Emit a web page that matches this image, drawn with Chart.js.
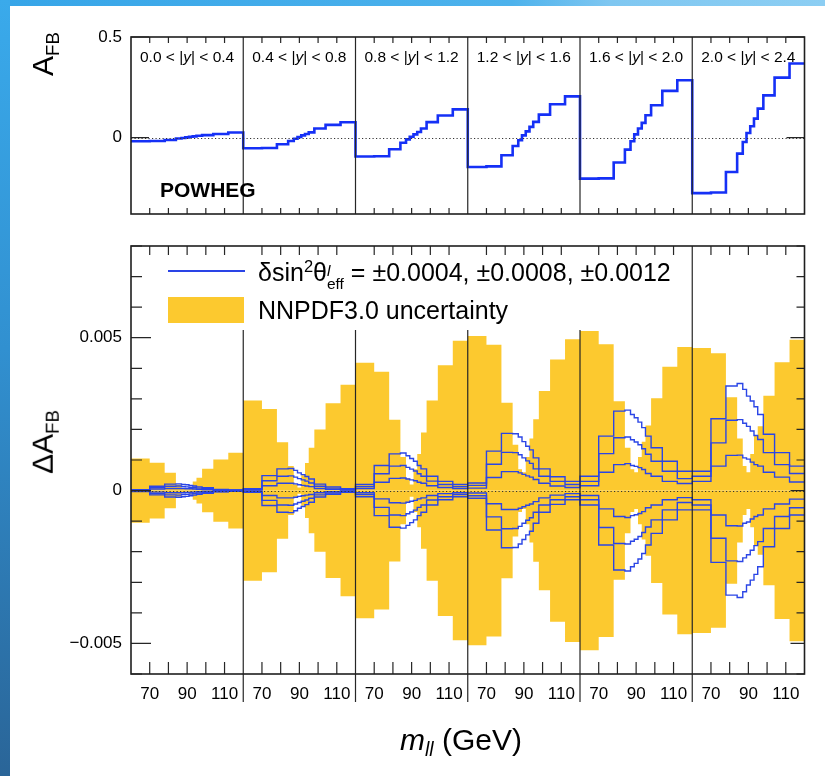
<!DOCTYPE html>
<html>
<head>
<meta charset="utf-8">
<script src="https://cdn.jsdelivr.net/npm/chart.js@4.4.1/dist/chart.umd.min.js"></script>
<style>
  html, body { margin: 0; padding: 0; background: #fff; }
  body { width: 825px; height: 776px; position: relative; overflow: hidden;
         font-family: "Liberation Sans", Arial, Helvetica, sans-serif; color: #000; }
  #edgeTop { position: absolute; left: 0; top: 0; width: 825px; height: 6px;
             background: linear-gradient(90deg, #36a5e8 0%, #4db2ec 62%, #7fc7f1 74%, #8ccef3 100%); }
  #edgeLeft { position: absolute; left: 0; top: 0; width: 10px; height: 776px;
              background: linear-gradient(180deg, #3aaaeb 0%, #3190d0 45%, #2a6598 100%); }
  #topWrap { position: absolute; left: 0; top: 0; width: 825px; height: 230px; }
  #botWrap { position: absolute; left: 0; top: 230px; width: 825px; height: 546px; }
  .ytitle { position: absolute; transform: translate(-50%, -50%) rotate(-90deg);
            font-size: 30px; line-height: 1; white-space: nowrap; }
  .ytitle sub { font-size: 0.62em; vertical-align: -0.32em; }
  .plabel { position: absolute; top: 49px; font-size: 15.5px; line-height: 1;
            white-space: nowrap; transform: translateX(-50%); }
  #powheg { position: absolute; left: 160px; top: 179px; font-size: 21px; font-weight: bold; line-height: 1; }
  #xtitle { position: absolute; left: 461px; top: 742px; transform: translate(-50%, -50%);
            font-size: 30px; line-height: 1; white-space: nowrap; }
  #xtitle sub { font-size: 0.65em; vertical-align: -0.3em; }
  .legText { position: absolute; left: 258px; font-size: 25px; line-height: 30px; white-space: nowrap; }
  .legText sup { font-size: 0.66em; vertical-align: 0.55em; line-height: 0; }
  .stack { display: inline-block; font-size: 0.62em; line-height: 0.85; vertical-align: -0.5em; text-align: left; }
  #legLine { position: absolute; left: 168px; top: 270px; width: 77px; height: 1.5px; background: #2a44e6; }
  #legBox { position: absolute; left: 168px; top: 297px; width: 76px; height: 26px; background: #fcc92f; }
</style>
</head>
<body>
<div id="edgeTop"></div>
<div id="edgeLeft"></div>
<div id="topWrap"><canvas id="afbChart" width="825" height="230"></canvas></div>
<div id="botWrap"><canvas id="dafbChart" width="825" height="546"></canvas></div>

<div class="ytitle" style="left:45px; top:54px;">A<sub>FB</sub></div>
<div class="ytitle" style="left:45px; top:442px;">&Delta;A<sub>FB</sub></div>
<div id="powheg">POWHEG</div>
<div id="legLine"></div>
<div class="legText" style="top:257px;">&delta;sin<sup>2</sup>&theta;<span class="stack"><i>l</i><br>eff</span> = &plusmn;0.0004, &plusmn;0.0008, &plusmn;0.0012</div>
<div id="legBox"></div>
<div class="legText" style="top:295px;">NNPDF3.0 uncertainty</div>
<div id="xtitle"><i>m</i><sub><i>ll</i></sub> (GeV)</div>

<script>
// Dilepton mass bin edges (GeV), shared by all rapidity panels
const massEdges = [60, 70, 78, 84, 87, 89, 91, 93, 95, 98, 104, 112, 120];
// |y| bin edges, one panel per bin
const rapidityEdges = ['0.0', '0.4', '0.8', '1.2', '1.6', '2.0', '2.4'];

// Axis ticks
const massTickValues = [70, 90, 110];
const massTickLabels = ['70', '90', '110'];
const massMinorTicks = [70, 80, 90, 100, 110];
const afbTickValues = [0, 0.5];
const afbTickLabels = ['0', '0.5'];
const dAfbTickValues = [-0.005, 0, 0.005];
const dAfbTickLabels = ['\u22120.005', '0', '0.005'];

// POWHEG forward-backward asymmetry, one row per |y| bin, one value per mass bin
const afbPowheg = [
  [-0.018, -0.017, -0.012, -0.005, -0.002, 0.001, 0.004, 0.006, 0.009, 0.012, 0.018, 0.025],
  [-0.053, -0.052, -0.033, -0.017, -0.006, 0.003, 0.011, 0.018, 0.026, 0.045, 0.063, 0.076],
  [-0.094, -0.093, -0.058, -0.026, -0.009, 0.004, 0.016, 0.028, 0.045, 0.077, 0.110, 0.140],
  [-0.146, -0.143, -0.088, -0.042, -0.013, 0.011, 0.031, 0.053, 0.078, 0.114, 0.166, 0.205],
  [-0.204, -0.203, -0.124, -0.060, -0.018, 0.016, 0.045, 0.073, 0.111, 0.161, 0.232, 0.285],
  [-0.276, -0.273, -0.171, -0.080, -0.022, 0.023, 0.056, 0.094, 0.144, 0.210, 0.298, 0.368]
];

// NNPDF3.0 uncertainty on A_FB (half-width of the band)
const pdfUncertainty = [
  [0.00105, 0.00091, 0.00058, 0.0002, 0.00006, 0.00004, 0.00012, 0.0003, 0.00042, 0.00071, 0.00102, 0.00124],
  [0.00295, 0.00267, 0.00158, 0.0008, 0.0002, 0.0001, 0.0005, 0.0009, 0.0014, 0.0020, 0.00286, 0.00346],
  [0.00418, 0.00389, 0.00232, 0.0011, 0.0004, 0.0002, 0.0007, 0.0012, 0.0019, 0.00295, 0.0041, 0.0049],
  [0.00506, 0.00477, 0.00287, 0.0015, 0.0007, 0.0006, 0.0011, 0.0017, 0.00233, 0.00326, 0.00429, 0.00495],
  [0.00522, 0.00479, 0.00292, 0.0014, 0.0007, 0.0006, 0.0011, 0.0016, 0.00213, 0.00302, 0.00405, 0.0047],
  [0.00466, 0.00449, 0.00305, 0.0017, 0.0008, 0.0006, 0.0012, 0.0018, 0.0021, 0.0031, 0.0042, 0.00493]
];

// Change of A_FB for a shift of sin^2(theta_eff) by 0.0004, 0.0008 and 0.0012
const dAfbShift0004 = [
  [0.00001, 0.00005, 0.00007, 0.00007, 0.00007, 0.00006, 0.00006, 0.00005, 0.00004, 0.00003, 0.00001, 0.00001],
  [0.00002, 0.00016, 0.00024, 0.00024, 0.00022, 0.00019, 0.00017, 0.00015, 0.00013, 0.00007, 0.00004, 0.00002],
  [0.00007, 0.00027, 0.0004, 0.00041, 0.00038, 0.00035, 0.00032, 0.00027, 0.00024, 0.00016, 0.0001, 0.00007],
  [0.00008, 0.00043, 0.00062, 0.00062, 0.00058, 0.00053, 0.00048, 0.00044, 0.00036, 0.00024, 0.00015, 0.0001],
  [0.00016, 0.0006, 0.00085, 0.00088, 0.00082, 0.00079, 0.00075, 0.00069, 0.00056, 0.00047, 0.0003, 0.00023],
  [0.0003, 0.0008, 0.00115, 0.00116, 0.00107, 0.00103, 0.00093, 0.00085, 0.0008, 0.0006, 0.00044, 0.00028]
];
const dAfbShift0008 = [
  [0.00002, 0.0001, 0.00014, 0.00015, 0.00013, 0.00012, 0.00011, 0.0001, 0.00008, 0.00006, 0.00003, 0.00001],
  [0.00004, 0.00032, 0.00047, 0.00048, 0.00044, 0.00039, 0.00035, 0.00031, 0.00025, 0.00014, 0.00008, 0.00004],
  [0.00013, 0.00055, 0.0008, 0.00082, 0.00076, 0.0007, 0.00064, 0.00055, 0.00047, 0.00031, 0.0002, 0.00013],
  [0.00017, 0.00086, 0.00125, 0.00124, 0.00117, 0.00107, 0.00097, 0.00089, 0.00071, 0.00047, 0.0003, 0.0002],
  [0.0003, 0.00121, 0.00173, 0.00175, 0.00166, 0.00159, 0.0015, 0.00137, 0.00119, 0.00096, 0.00063, 0.00039],
  [0.00047, 0.00156, 0.0023, 0.00232, 0.0022, 0.0021, 0.00195, 0.0018, 0.00167, 0.00124, 0.00085, 0.00056]
];
const dAfbShift0012 = [
  [0.00003, 0.00014, 0.00021, 0.00022, 0.0002, 0.00019, 0.00017, 0.00015, 0.00012, 0.00009, 0.00004, 0.00002],
  [0.00006, 0.00049, 0.00071, 0.00072, 0.00066, 0.00058, 0.00052, 0.00046, 0.00038, 0.00021, 0.00012, 0.00006],
  [0.0002, 0.00082, 0.0012, 0.00123, 0.00114, 0.00105, 0.00096, 0.00082, 0.00071, 0.00047, 0.0003, 0.0002],
  [0.00025, 0.00129, 0.00187, 0.00186, 0.00175, 0.0016, 0.00145, 0.00133, 0.00107, 0.00071, 0.00045, 0.0003],
  [0.00047, 0.00178, 0.0026, 0.00263, 0.00249, 0.00238, 0.00224, 0.00206, 0.00178, 0.0014, 0.00096, 0.00063],
  [0.00063, 0.00235, 0.00342, 0.0035, 0.00331, 0.00309, 0.00293, 0.00274, 0.00249, 0.00184, 0.00124, 0.0008]
];

// ---- helpers -------------------------------------------------------------
const massLo = massEdges[0];
const panelSpan = massEdges[massEdges.length - 1] - massLo;   // 60 GeV per panel
const nPanels = rapidityEdges.length - 1;
const axisMax = panelSpan * nPanels;

// position on the shared x axis of mass m inside panel p
const panelX = (p, m) => p * panelSpan + (m - massLo);

// step-histogram points: one point per bin low edge plus a closing point
function stepPoints(rows, sign) {
  const pts = [];
  rows.forEach((row, p) => row.forEach((v, i) => pts.push({ x: panelX(p, massEdges[i]), y: sign * v })));
  pts.push({ x: axisMax, y: sign * rows[rows.length - 1][rows[0].length - 1] });
  return pts;
}

// fixed axis box: no extra room reserved for overhanging end labels
const fixAxis = (size, vertical) => s => {
  if (vertical) s.width = size; else s.height = size;
  s.paddingTop = s.paddingBottom = s.paddingLeft = s.paddingRight = 0;
};

const FONT = "'Liberation Sans', Arial, Helvetica, sans-serif";
Chart.defaults.font.family = FONT;
Chart.defaults.color = '#000';

// frame, inward ticks, panel dividers and the dotted zero line
function frameDecor(cfg) {
  return {
    id: 'frameDecor',
    afterDatasetsDraw(chart) {
      const { ctx, chartArea: a, scales: { y } } = chart;
      const y0 = Math.round(y.getPixelForValue(0)) + 0.5;
      ctx.save();
      ctx.strokeStyle = '#333';
      ctx.lineWidth = 1;
      ctx.setLineDash([1.2, 2.3]);
      ctx.beginPath(); ctx.moveTo(a.left, y0); ctx.lineTo(a.right, y0); ctx.stroke();
      ctx.restore();
    },
    afterDraw(chart) {
      const { ctx, chartArea: a, scales: { x, y } } = chart;
      ctx.save();
      ctx.strokeStyle = '#262626';
      ctx.lineWidth = 1.2;
      ctx.beginPath();
      // panel dividers
      for (let p = 1; p < nPanels; p++) {
        const px = x.getPixelForValue(panelX(p, massLo));
        let top = a.top;
        if (cfg.legendBox && px < cfg.legendBox.right) top = cfg.legendBox.bottom;
        ctx.moveTo(px, top); ctx.lineTo(px, a.bottom + cfg.dividerExtend);
      }
      // mass ticks
      for (let p = 0; p < nPanels; p++) {
        massMinorTicks.forEach(m => {
          const px = x.getPixelForValue(panelX(p, m));
          ctx.moveTo(px, a.bottom); ctx.lineTo(px, a.bottom - cfg.xTickBottom);
          ctx.moveTo(px, a.top); ctx.lineTo(px, a.top + cfg.xTickTop);
        });
      }
      // vertical-axis ticks
      cfg.yMinor.forEach(v => {
        const py = y.getPixelForValue(v);
        ctx.moveTo(a.left, py); ctx.lineTo(a.left + cfg.yMinorLeft, py);
        ctx.moveTo(a.right, py); ctx.lineTo(a.right - cfg.yMinorRight, py);
      });
      cfg.yMajor.forEach(v => {
        const py = y.getPixelForValue(v);
        ctx.moveTo(a.left, py); ctx.lineTo(a.left + cfg.yMajorLeft, py);
        ctx.moveTo(a.right, py); ctx.lineTo(a.right - cfg.yMajorRight, py);
      });
      ctx.stroke();
      // frame
      ctx.lineWidth = 1.6;
      ctx.strokeStyle = '#1e1e1e';
      ctx.strokeRect(a.left, a.top, a.right - a.left, a.bottom - a.top);
      ctx.restore();
    }
  };
}

const tickFont = { family: FONT, size: 17 };

// ---- upper chart: A_FB ---------------------------------------------------
const afbChart = new Chart(document.getElementById('afbChart'), {
  type: 'line',
  data: {
    datasets: [{
      data: stepPoints(afbPowheg, 1),
      stepped: true,
      borderColor: '#1530f6',
      borderWidth: 2.6,
      pointRadius: 0,
      fill: false
    }]
  },
  options: {
    responsive: false,
    animation: false,
    events: [],
    layout: { padding: { left: 0, right: 20.5, top: 37, bottom: 16 } },
    plugins: { legend: { display: false }, tooltip: { enabled: false } },
    scales: {
      x: { type: 'linear', min: 0, max: axisMax, display: false },
      y: {
        type: 'linear', min: -0.38, max: 0.5,
        grid: { display: false, drawTicks: false },
        border: { display: false },
        afterBuildTicks: s => { s.ticks = afbTickValues.map(v => ({ value: v })); },
        afterFit: fixAxis(131, true),
        ticks: {
          padding: 9, font: tickFont, color: '#000',
          callback: v => afbTickLabels[afbTickValues.indexOf(v)]
        }
      }
    }
  },
  plugins: [frameDecor({
    dividerExtend: 0, xTickTop: 6, xTickBottom: 6,
    yMajor: afbTickValues, yMinor: [],
    yMajorLeft: 18, yMajorRight: 18, yMinorLeft: 0, yMinorRight: 0
  })]
});

// panel labels centred on each |y| panel
for (let p = 0; p < nPanels; p++) {
  const d = document.createElement('div');
  d.className = 'plabel';
  d.innerHTML = rapidityEdges[p] + ' &lt; |<i>y</i>| &lt; ' + rapidityEdges[p + 1];
  d.style.left = afbChart.scales.x.getPixelForValue(panelX(p, (massLo + massEdges[massEdges.length - 1]) / 2)) + 'px';
  document.body.appendChild(d);
}

// ---- lower chart: Delta A_FB -------------------------------------------------
const bandColor = '#fcc92f';
const shiftColor = '#2a45e6';
const shiftLine = (rows, sign) => ({
  data: stepPoints(rows, sign),
  stepped: true,
  borderColor: shiftColor,
  borderWidth: 1.4,
  pointRadius: 0,
  fill: false
});
const bandEdge = sign => ({
  data: stepPoints(pdfUncertainty, sign),
  stepped: true,
  fill: 'origin',
  backgroundColor: bandColor,
  borderColor: 'rgba(0,0,0,0)',
  borderWidth: 0,
  pointRadius: 0
});

const minorSteps = [];
for (let k = -6; k <= 8; k++) minorSteps.push(k / 1000);

// the first datasets are painted last, so the shift lines sit above the band
new Chart(document.getElementById('dafbChart'), {
  type: 'line',
  data: {
    datasets: [
      shiftLine(dAfbShift0012, 1), shiftLine(dAfbShift0008, 1), shiftLine(dAfbShift0004, 1),
      shiftLine(dAfbShift0004, -1), shiftLine(dAfbShift0008, -1), shiftLine(dAfbShift0012, -1),
      bandEdge(1), bandEdge(-1)
    ]
  },
  options: {
    responsive: false,
    animation: false,
    events: [],
    layout: { padding: { left: 0, right: 20.5, top: 16, bottom: 72 } },
    plugins: {
      legend: { display: false }, tooltip: { enabled: false },
      filler: { drawTime: 'beforeDatasetsDraw' }
    },
    scales: {
      x: {
        type: 'linear', min: 0, max: axisMax,
        grid: { display: false, drawTicks: false },
        border: { display: false },
        afterBuildTicks: s => {
          const t = [];
          for (let p = 0; p < nPanels; p++) massTickValues.forEach(m => t.push({ value: panelX(p, m) }));
          s.ticks = t;
        },
        afterFit: fixAxis(30, false),
        ticks: {
          padding: 10, font: tickFont, color: '#000', autoSkip: false, maxRotation: 0,
          callback: v => massTickLabels[massTickValues.indexOf(Math.round(v % panelSpan + massLo))]
        }
      },
      y: {
        type: 'linear', min: -0.006, max: 0.008,
        grid: { display: false, drawTicks: false },
        border: { display: false },
        afterBuildTicks: s => { s.ticks = dAfbTickValues.map(v => ({ value: v })); },
        afterFit: fixAxis(131, true),
        ticks: {
          padding: 9, font: tickFont, color: '#000',
          callback: v => dAfbTickLabels[dAfbTickValues.indexOf(v)]
        }
      }
    }
  },
  plugins: [frameDecor({
    dividerExtend: 28, xTickTop: 9, xTickBottom: 12,
    legendBox: { right: 682, bottom: 100 },
    yMajor: dAfbTickValues, yMinor: minorSteps,
    yMajorLeft: 20, yMajorRight: 14, yMinorLeft: 11, yMinorRight: 8
  })]
});
</script>
</body>
</html>
